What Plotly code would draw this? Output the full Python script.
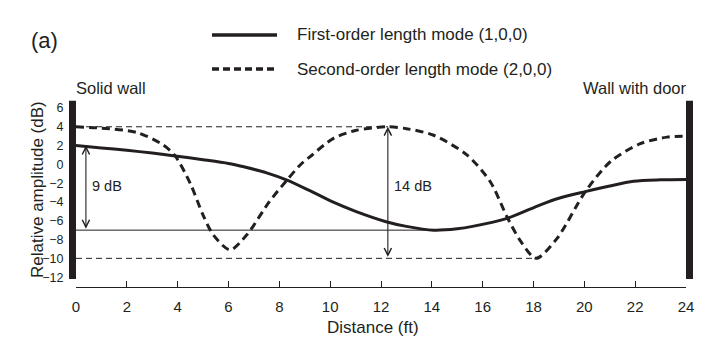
import plotly.graph_objects as go

# ---- data ----
first_x = [0, 1, 2, 3, 3.9, 5, 6, 6.6, 7.5, 8.3, 9.2, 10.1, 11, 12.2, 13, 14.07, 15, 15.6, 16.96, 18.27, 19, 20.04, 21, 21.94, 23, 24]
first_y = [2.0, 1.75, 1.5, 1.2, 0.9, 0.5, 0.1, -0.26, -0.9, -1.67, -2.8, -4.0, -5.0, -6.1, -6.6, -7.0, -6.85, -6.6, -5.75, -4.3, -3.6, -2.9, -2.3, -1.8, -1.65, -1.6]

second_x = [0, 1, 2.39, 3.44, 3.9, 4.49, 5.0, 5.4, 6.06, 6.72, 7.6, 8.3, 8.82, 9.2, 10.13, 11, 12.23, 13, 14.07, 15.38, 16.3, 16.96, 17.5, 18.1, 18.92, 20.04, 21.02, 22.2, 23.25, 24]
second_y = [4.0, 3.85, 3.4, 2.05, 0.9, -2.0, -5.4, -7.5, -9.1, -7.5, -4.0, -1.67, -0.07, 0.8, 2.77, 3.6, 4.0, 3.8, 3.1, 1.0, -1.85, -5.6, -8.2, -10.0, -7.9, -2.9, 0.28, 2.2, 2.9, 3.0]

x_ticks = [0, 2, 4, 6, 8, 10, 12, 14, 16, 18, 20, 22, 24]
y_ticks = [6, 4, 2, 0, -2, -4, -6, -8, -10, -12]

legend_labels = ["First-order length mode (1,0,0)", "Second-order length mode (2,0,0)"]
ref_levels = {"first_max": 2, "first_min": -7, "second_max": 4, "second_min": -10}
ref_ends = {"first_min": 14.07, "second_max": 12.27, "second_min": 18.1}
arrow_x = {"nine": 0.39, "fourteen": 12.27}
wall_y = [-12.2, 6.78]

INK = "#231f20"
FONT = "Liberation Sans, Arial, sans-serif"
NARROW = "Liberation Sans Narrow, Liberation Sans, Arial, sans-serif"

fig = go.Figure()
fig.add_trace(go.Scatter(x=first_x, y=first_y, mode="lines",
                         line=dict(color=INK, width=3, shape="spline", smoothing=0.8),
                         showlegend=False, hoverinfo="skip"))
fig.add_trace(go.Scatter(x=second_x, y=second_y, mode="lines",
                         line=dict(color=INK, width=3, dash="8px,5px", shape="spline", smoothing=0.8),
                         showlegend=False, hoverinfo="skip"))

W, H = 707, 339
ml, mr, mt, mb = 76, 21, 100, 52
pw = W - ml - mr
ph = H - mt - mb
def px(xp):
    return (xp - ml) / pw
def py(yp):
    return (H - mb - yp) / ph

shapes = []
# reference lines
shapes.append(dict(type="line", xref="x", yref="y", x0=0, x1=ref_ends["second_max"],
                   y0=ref_levels["second_max"], y1=ref_levels["second_max"],
                   line=dict(color=INK, width=1, dash="6px,4px"), layer="below"))
shapes.append(dict(type="line", xref="x", yref="y", x0=0, x1=ref_ends["second_min"],
                   y0=ref_levels["second_min"], y1=ref_levels["second_min"],
                   line=dict(color=INK, width=1, dash="6px,4px"), layer="below"))
shapes.append(dict(type="line", xref="x", yref="y", x0=0, x1=ref_ends["first_min"],
                   y0=ref_levels["first_min"], y1=ref_levels["first_min"],
                   line=dict(color=INK, width=1), layer="below"))
# walls (paper x so they can sit outside 0..24)
shapes.append(dict(type="rect", xref="paper", yref="y", x0=-7 / pw, x1=0,
                   y0=wall_y[0], y1=wall_y[1], fillcolor=INK, line=dict(width=0)))
shapes.append(dict(type="rect", xref="paper", yref="y", x0=1, x1=1 + 7 / pw,
                   y0=wall_y[0], y1=wall_y[1], fillcolor=INK, line=dict(width=0)))
# legend samples
shapes.append(dict(type="line", xref="paper", yref="paper", x0=px(212), x1=px(277), y0=py(35), y1=py(35),
                   line=dict(color=INK, width=3.5)))
shapes.append(dict(type="line", xref="paper", yref="paper", x0=px(212), x1=px(277), y0=py(69), y1=py(69),
                   line=dict(color=INK, width=3.5, dash="7px,4px")))

annotations = []
annotations.append(dict(xref="paper", yref="paper", x=px(295), y=py(35), text=legend_labels[0],
                        showarrow=False, xanchor="left", yanchor="middle",
                        font=dict(family=FONT, size=17, color=INK)))
annotations.append(dict(xref="paper", yref="paper", x=px(295), y=py(69), text=legend_labels[1],
                        showarrow=False, xanchor="left", yanchor="middle",
                        font=dict(family=FONT, size=17, color=INK)))
annotations.append(dict(xref="paper", yref="paper", x=px(29), y=py(40), text="(a)",
                        showarrow=False, xanchor="left", yanchor="middle",
                        font=dict(family=FONT, size=22, color=INK)))
annotations.append(dict(xref="paper", yref="paper", x=px(74), y=py(88), text="Solid wall",
                        showarrow=False, xanchor="left", yanchor="middle",
                        font=dict(family=FONT, size=16.5, color=INK)))
annotations.append(dict(xref="paper", yref="paper", x=px(689), y=py(88), text="Wall with door",
                        showarrow=False, xanchor="right", yanchor="middle",
                        font=dict(family=FONT, size=16.5, color=INK)))
# axis titles
annotations.append(dict(xref="paper", yref="paper", x=px(37), y=py(190), text="Relative amplitude (dB)",
                        showarrow=False, xanchor="center", yanchor="middle", textangle=-90,
                        font=dict(family=FONT, size=17, color=INK)))
annotations.append(dict(xref="paper", yref="paper", x=px(373), y=py(327), text="Distance (ft)",
                        showarrow=False, xanchor="center", yanchor="middle",
                        font=dict(family=NARROW, size=17, color=INK)))
# double arrows
annotations.append(dict(xref="x", yref="y", axref="x", ayref="y",
                        x=arrow_x["nine"], y=ref_levels["first_max"],
                        ax=arrow_x["nine"], ay=ref_levels["first_min"],
                        text="", showarrow=True, arrowhead=5, startarrowhead=5,
                        arrowside="end+start", arrowsize=1.3, startarrowsize=1.3,
                        arrowwidth=1.1, arrowcolor=INK))
annotations.append(dict(xref="x", yref="y", axref="x", ayref="y",
                        x=arrow_x["fourteen"], y=ref_levels["second_max"],
                        ax=arrow_x["fourteen"], ay=ref_levels["second_min"],
                        text="", showarrow=True, arrowhead=5, startarrowhead=5,
                        arrowside="end+start", arrowsize=1.3, startarrowsize=1.3,
                        arrowwidth=1.1, arrowcolor=INK))
annotations.append(dict(xref="x", yref="y", x=0.56, y=-2.3, text="9 dB", showarrow=False,
                        xanchor="left", yanchor="middle", font=dict(family=FONT, size=14.5, color=INK)))
annotations.append(dict(xref="x", yref="y", x=12.42, y=-2.3, text="14 dB", showarrow=False,
                        xanchor="left", yanchor="middle", font=dict(family=FONT, size=14.5, color=INK)))

fig.update_layout(
    width=W, height=H,
    margin=dict(l=ml, r=mr, t=mt, b=mb),
    paper_bgcolor="white", plot_bgcolor="white",
    shapes=shapes, annotations=annotations,
    showlegend=False,
    xaxis=dict(range=[0, 24], tickvals=x_ticks, ticktext=[str(v) for v in x_ticks],
               showgrid=False, zeroline=False, showline=True, linecolor=INK, linewidth=1,
               ticks="inside", ticklen=6, tickwidth=1, tickcolor=INK,
               ticklabelstandoff=6,
               tickfont=dict(family=NARROW, size=15, color=INK)),
    yaxis=dict(range=[-13.05, 6.85], tickvals=y_ticks,
               ticktext=[("−" + str(-v)) if v < 0 else str(v) for v in y_ticks],
               showgrid=False, zeroline=False, showline=False,
               ticks="outside", ticklen=9, tickcolor="rgba(0,0,0,0)",
               tickfont=dict(family=FONT, size=12.5, color=INK)),
)

fig.write_html("out.html")
